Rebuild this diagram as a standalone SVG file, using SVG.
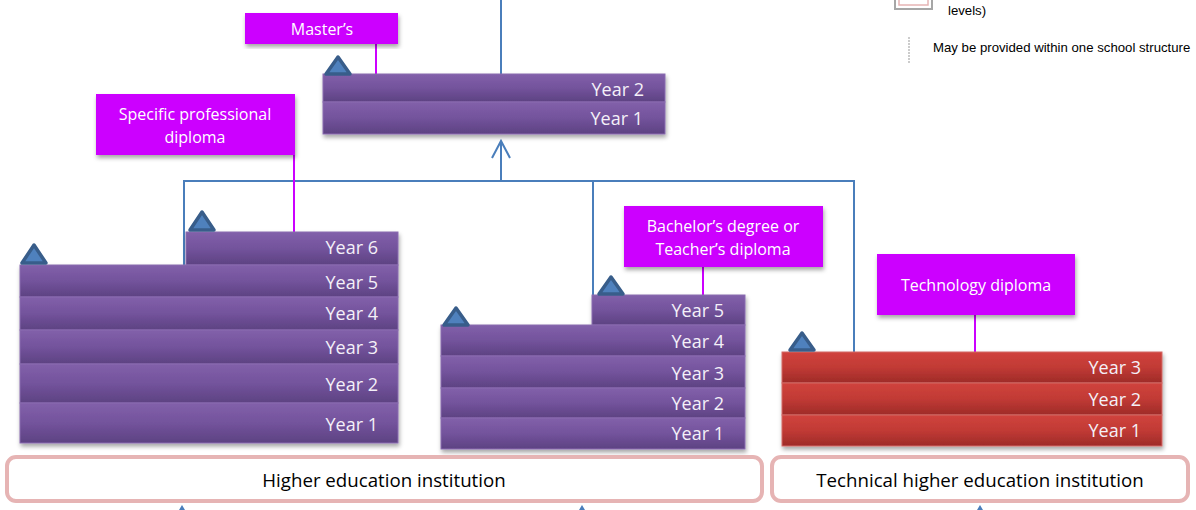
<svg xmlns="http://www.w3.org/2000/svg" width="1196" height="510" viewBox="0 0 1196 510">
<defs>
<linearGradient id="gp" x1="0" y1="0" x2="0" y2="1">
<stop offset="0" stop-color="#8260AA"/><stop offset="0.5" stop-color="#73539C"/><stop offset="1" stop-color="#5D4282"/>
</linearGradient>
<linearGradient id="gr" x1="0" y1="0" x2="0" y2="1">
<stop offset="0" stop-color="#D0433D"/><stop offset="0.5" stop-color="#C13A35"/><stop offset="1" stop-color="#9E2B28"/>
</linearGradient>
<filter id="sh" x="-5%" y="-5%" width="110%" height="120%">
<feDropShadow dx="1" dy="3" stdDeviation="2" flood-color="#000" flood-opacity="0.35"/>
</filter>
<style>
.bp{fill:url(#gp);stroke:#8A6DB0;stroke-width:1}
.br{fill:url(#gr);stroke:#D26A66;stroke-width:1}
.yr{font-family:"Open Sans","Noto Sans",sans-serif;font-size:18px;fill:#F4F0F8;text-anchor:end}
.mg{fill:#CC00FF}
.mt{font-family:"Open Sans","Noto Sans",sans-serif;font-size:16px;fill:#FFFFFF;text-anchor:middle}
.tri{fill:#4F81BD;stroke:#385D8A;stroke-width:3.5;stroke-linejoin:round}
.ml{stroke:#CC00FF;stroke-width:2;fill:none}
.bl{stroke:#4A7EBB;stroke-width:2;fill:none}
.inst{fill:#FFFFFF;stroke:#E6B4B4;stroke-width:4}
.it{font-family:"Open Sans","Noto Sans",sans-serif;font-size:18.7px;fill:#000;text-anchor:middle}
.lg{font-family:"Liberation Sans",Arial,sans-serif;font-size:13.2px;fill:#000}
</style>
</defs>
<rect width="1196" height="510" fill="#FFFFFF"/>

<g id="legend">
<rect x="895" y="-4" width="37" height="13" fill="#FFFFFF" stroke="#A6A6A6" stroke-width="2"/>
<rect x="899" y="-4" width="29" height="9" fill="#FFFFFF" stroke="#E6B4B4" stroke-width="1.5"/>
<text class="lg" x="948" y="15">levels)</text>
<line x1="909" y1="37" x2="909" y2="63" stroke="#999" stroke-width="1" stroke-dasharray="2,1"/>
<text class="lg" x="933" y="52">May be provided within one school structure</text>
</g>

<g id="connectors">
<line class="bl" x1="501" y1="0" x2="501" y2="74"/>
<line class="bl" x1="501" y1="181" x2="501" y2="141"/>
<polyline class="bl" points="492,158 501,141 510,158"/>
<line class="bl" x1="184" y1="181" x2="854" y2="181"/>
<line class="bl" x1="184" y1="180" x2="184" y2="265"/>
<line class="bl" x1="593" y1="181" x2="593" y2="295"/>
<line class="bl" x1="854" y1="180" x2="854" y2="352"/>
<line class="ml" x1="376" y1="44" x2="376" y2="74"/>
<line class="ml" x1="294" y1="155" x2="294" y2="232"/>
<line class="ml" x1="703" y1="267" x2="703" y2="295"/>
<line class="ml" x1="975" y1="315" x2="975" y2="352"/>
<polygon points="179,510 182,505 185,510" fill="#4A7EBB"/>
<polygon points="579,510 582,505 585,510" fill="#4A7EBB"/>
<polygon points="977,510 980,505 983,510" fill="#4A7EBB"/>
</g>

<g id="masters-label">
<rect class="mg" x="245" y="13" width="153" height="31" filter="url(#sh)"/>
<text class="mt" x="322" y="35">Master’s</text>
</g>

<g id="masters-stack">
<g filter="url(#sh)">
<rect class="bp" x="323" y="74" width="342" height="28"/>
<rect class="bp" x="323" y="102" width="342" height="32"/>
</g>
<text class="yr" x="644" y="96">Year 2</text>
<text class="yr" x="643" y="125">Year 1</text>
<polygon class="tri" points="338,57 326,74 350,74"/>
</g>

<g id="specific-label">
<rect class="mg" x="96" y="94" width="199" height="61" filter="url(#sh)"/>
<text class="mt" x="195" y="120">Specific professional</text>
<text class="mt" x="195" y="143">diploma</text>
</g>

<g id="left-stack">
<g filter="url(#sh)">
<rect class="bp" x="186" y="232" width="212" height="33"/>
<rect class="bp" x="20" y="265" width="378" height="32"/>
<rect class="bp" x="20" y="297" width="378" height="33"/>
<rect class="bp" x="20" y="330" width="378" height="34"/>
<rect class="bp" x="20" y="364" width="378" height="39"/>
<rect class="bp" x="20" y="403" width="378" height="40"/>
</g>
<text class="yr" x="378" y="254">Year 6</text>
<text class="yr" x="378" y="289">Year 5</text>
<text class="yr" x="378" y="320">Year 4</text>
<text class="yr" x="378" y="354">Year 3</text>
<text class="yr" x="378" y="391">Year 2</text>
<text class="yr" x="378" y="431">Year 1</text>
<polygon class="tri" points="202,212 190,230 214,230"/>
<polygon class="tri" points="34,245 22,263 46,263"/>
</g>

<g id="bachelor-label">
<rect class="mg" x="624" y="206" width="199" height="61" filter="url(#sh)"/>
<text class="mt" x="723" y="232">Bachelor’s degree or</text>
<text class="mt" x="723" y="255">Teacher’s diploma</text>
</g>

<g id="middle-stack">
<g filter="url(#sh)">
<rect class="bp" x="592" y="295" width="153" height="30"/>
<rect class="bp" x="441" y="325" width="304" height="31"/>
<rect class="bp" x="441" y="356" width="304" height="32"/>
<rect class="bp" x="441" y="388" width="304" height="30"/>
<rect class="bp" x="441" y="418" width="304" height="31"/>
</g>
<text class="yr" x="724" y="317">Year 5</text>
<text class="yr" x="724" y="348">Year 4</text>
<text class="yr" x="724" y="380">Year 3</text>
<text class="yr" x="724" y="410">Year 2</text>
<text class="yr" x="724" y="440">Year 1</text>
<polygon class="tri" points="611,277 599,294 623,294"/>
<polygon class="tri" points="456,308 444,325 468,325"/>
</g>

<g id="technology-label">
<rect class="mg" x="877" y="254" width="198" height="61" filter="url(#sh)"/>
<text class="mt" x="976" y="291">Technology diploma</text>
</g>

<g id="technical-stack">
<g filter="url(#sh)">
<rect class="br" x="782" y="352" width="380" height="31"/>
<rect class="br" x="782" y="383" width="380" height="32"/>
<rect class="br" x="782" y="415" width="380" height="31"/>
</g>
<text class="yr" x="1141" y="374">Year 3</text>
<text class="yr" x="1141" y="406">Year 2</text>
<text class="yr" x="1141" y="437">Year 1</text>
<polygon class="tri" points="802,333 790,350 814,350"/>
</g>

<g id="higher-education-institution">
<rect class="inst" x="7" y="457" width="755" height="44" rx="9"/>
<text class="it" x="384" y="487">Higher education institution</text>
</g>

<g id="technical-higher-education-institution">
<rect class="inst" x="772" y="457" width="416" height="44" rx="9"/>
<text class="it" x="980" y="487">Technical higher education institution</text>
</g>
</svg>
